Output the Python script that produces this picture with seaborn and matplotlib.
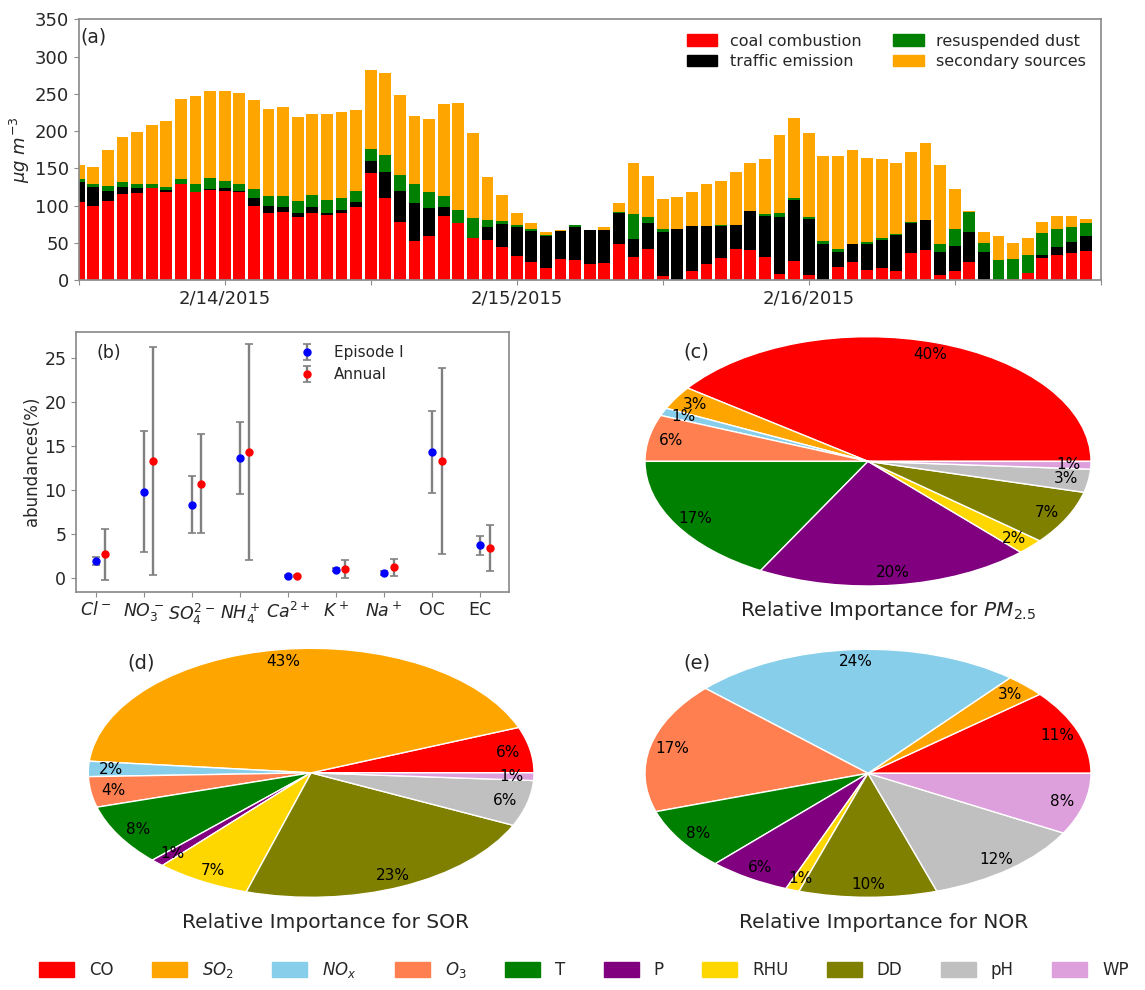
import numpy as np
import pandas as pd
import matplotlib
matplotlib.use("Agg")
import matplotlib.pyplot as plt
import seaborn as sns
from matplotlib.patches import Patch

sns.set_theme(style="ticks")
plt.rcParams["font.family"] = ["DejaVu Sans"]
plt.rcParams["mathtext.fontset"] = "dejavusans"
plt.rcParams["xtick.major.size"] = 3.5
plt.rcParams["ytick.major.size"] = 3.5
plt.rcParams["xtick.major.width"] = 0.8
plt.rcParams["ytick.major.width"] = 0.8

# ---- (a) hourly source contributions, ug m-3 ----
coal = [105, 99, 106, 116, 117, 124, 118.5, 129.5, 118.5, 121,
        120, 118, 100, 90.5, 91.5, 84, 90.5, 87.5, 90.5, 98.5,
        143.5, 110.5, 78.5, 52.5, 59.5, 86, 76.5, 56, 53.5, 44.5,
        32, 24, 16, 28.5, 26.5, 21, 23, 48.5, 30.5, 41,
        6, 0, 11.5, 21, 30, 41, 40.5, 31, 7.5, 26,
        6.5, 0, 17, 24, 13.5, 16.5, 12.5, 36, 40, 6.5,
        12.5, 24.5, 0, 0, 1.5, 9, 29, 33.5, 36, 38.5]
traffic = [26, 26.5, 13, 8.5, 7, 0, 2, 0, 0, 1,
           3, 2, 9.5, 8.5, 6.5, 6.5, 8, 3, 3.5, 6.5,
           16.5, 35, 41.5, 51, 37.5, 12, 0, 0, 17, 30.5,
           39.5, 41.5, 43, 37.5, 45, 45.5, 44, 42, 24.5, 35.5,
           58, 68, 60.5, 52, 43, 33, 51.5, 55, 77.5, 81.5,
           75.5, 48, 21, 24, 35.5, 37.5, 48.5, 41, 40.5, 30.5,
           33.5, 40.5, 37.5, 0, 0, 0, 4.5, 11, 15.5, 21]
dust = [4.5, 3.5, 7, 6.5, 5.5, 5, 4, 6, 10, 15,
        10, 9.5, 12, 13.5, 14.5, 15.5, 16, 17.5, 16.5, 15,
        16, 22, 21.5, 25, 21.5, 14.5, 17.5, 27, 10, 4.5,
        2, 2.5, 2, 0, 2, 0.5, 0, 0.5, 34, 8.5,
        4, 0, 0, 0, 0.5, 0.5, 0.5, 3, 4.5, 3,
        2, 4.5, 4, 0.5, 2.5, 2, 0.5, 0.5, 0.5, 12,
        22.5, 26, 12.5, 27.5, 27, 24.5, 30, 24, 19.5, 16.5]
secondary = [19.5, 22.5, 48, 61.5, 69.5, 79, 89, 107.5, 118.5, 116.5,
             120.5, 121.5, 120, 116.5, 120, 112.5, 108.5, 115, 114.5, 108,
             106.5, 110, 107, 91.5, 97, 124, 143.5, 114, 58, 35,
             17, 8, 4, 0.5, 0, 0.5, 4, 12, 68.5, 54.5,
             41, 43, 46.5, 55.5, 60, 70.5, 65, 73, 104.5, 107,
             114, 114.5, 124.5, 126.5, 112.5, 106.5, 95, 94.5, 103.5, 105,
             54, 1.5, 14, 31.5, 21.5, 23.5, 14, 17.5, 15, 6]
source_names = ["coal combustion", "traffic emission", "resuspended dust", "secondary sources"]
source_colors = ["red", "black", "green", "orange"]
date_ticks = [0, 10, 20, 30, 40, 50, 60, 70]
date_labels = ["", "2/14/2015", "", "2/15/2015", "", "2/16/2015", "", ""]

# ---- (b) chemical abundances, % ----
species = [r"$Cl^-$", r"$NO_3^-$", r"$SO_4^{2-}$", r"$NH_4^+$", r"$Ca^{2+}$",
           r"$K^+$", r"$Na^+$", "OC", "EC"]
episode_mean = [1.9, 9.8, 8.3, 13.6, 0.15, 0.9, 0.55, 14.3, 3.7]
episode_err = [0.45, 6.9, 3.25, 4.1, 0.1, 0.15, 0.25, 4.7, 1.1]
annual_mean = [2.65, 13.35, 10.7, 14.35, 0.23, 1.0, 1.2, 13.3, 3.4]
annual_err = [2.9, 13.0, 5.65, 12.35, 0.12, 1.03, 0.97, 10.6, 2.65]

# ---- (c)-(e) relative importance of factors, % ----
factors = ["CO", r"$SO_2$", r"$NO_x$", r"$O_3$", "T", "P", "RHU", "DD", "pH", "WP"]
factor_colors = ["red", "orange", "skyblue", "coral", "green", "purple",
                 "gold", "olive", "silver", "plum"]
imp_pm25 = [40, 3, 1, 6, 17, 20, 2, 7, 3, 1]
imp_sor = [6, 43, 2, 4, 8, 1, 7, 23, 6, 1]
imp_nor = [11, 3, 24, 17, 8, 6, 1, 10, 12, 8]

W, H = 1145, 990
fig = plt.figure(figsize=(W / 100, H / 100), dpi=100)


def box(l, t, r, b):
    return [l / W, 1 - b / H, (r - l) / W, (b - t) / H]


def px(x, y):
    return x / W, 1 - y / H


spine_color = "0.55"

# ---------- (a) stacked bars ----------
ax_a = fig.add_axes(box(78.7, 19.3, 1100.7, 280))
hours = np.arange(len(coal))
df = pd.DataFrame({
    "hour": np.tile(hours, 4),
    "value": coal + traffic + dust + secondary,
    "source": np.repeat(source_names, len(hours)),
})
sns.histplot(data=df, x="hour", weights="value", hue="source",
             hue_order=source_names[::-1], multiple="stack", discrete=True,
             shrink=0.8, palette=dict(zip(source_names, source_colors)),
             alpha=1, linewidth=0, legend=False, ax=ax_a)
ax_a.set_xlim(0, 70)
ax_a.set_ylim(0, 350)
ax_a.set_yticks(range(0, 351, 50))
ax_a.set_xticks(date_ticks)
ax_a.set_xticklabels(date_labels)
ax_a.set_xlabel("")
ax_a.set_ylabel(r"$\mu g\ m^{-3}$", fontsize=13, labelpad=2)
ax_a.tick_params(labelsize=13, color=spine_color)
for s in ax_a.spines.values():
    s.set_color(spine_color)
    s.set_visible(True)
handles_a = [Patch(color=c, label=n) for n, c in zip(source_names, source_colors)]
ax_a.legend(handles=handles_a, ncol=2, loc="upper right", frameon=False,
            fontsize=11.5, handlelength=1.9, handleheight=0.7,
            labelspacing=0.35, columnspacing=2.0)
fig.text(*px(80, 37), "(a)", fontsize=13.5, va="center", ha="left")

# ---------- (b) abundances with error bars ----------
ax_b = fig.add_axes(box(76, 331.7, 509.3, 591.7))
xpos = np.arange(len(species))
ax_b.errorbar(xpos, episode_mean, yerr=episode_err, fmt="o", color="blue",
              ms=5, ecolor="gray", elinewidth=1.7, capsize=3, capthick=1.2,
              label="Episode I")
ax_b.errorbar(xpos + 0.2, annual_mean, yerr=annual_err, fmt="o", color="red",
              ms=5, ecolor="gray", elinewidth=1.7, capsize=3, capthick=1.2,
              label="Annual")
ax_b.set_xticks(xpos)
ax_b.set_xticklabels(species)
ax_b.set_yticks(range(0, 26, 5))
ax_b.set_ylabel("abundances(%)", fontsize=12, labelpad=2)
ax_b.tick_params(labelsize=12.5, color=spine_color)
for s in ax_b.spines.values():
    s.set_color(spine_color)
    s.set_visible(True)
ax_b.legend(loc="upper left", bbox_to_anchor=(0.465, 1.0), frameon=False,
            fontsize=11, labelspacing=0.45)
fig.text(*px(96, 353), "(b)", fontsize=12.5, va="center", ha="left")


# ---------- (c)-(e) pies ----------
def draw_pie(rect, values, tag, tag_xy, title, title_xy):
    ax = fig.add_axes(rect)
    ax.pie(values, colors=factor_colors, startangle=0, counterclock=True,
           autopct="%.0f%%", pctdistance=0.9,
           textprops=dict(fontsize=11, color="black"))
    ax.set_aspect("auto")
    ax.set_xlim(-1, 1)
    ax.set_ylim(-1, 1)
    ax.axis("off")
    fig.text(*px(*tag_xy), tag, fontsize=14, va="center", ha="left")
    fig.text(*px(*title_xy), title, fontsize=14.5, va="center", ha="center")


draw_pie(box(645, 336.7, 1091, 586), imp_pm25, "(c)", (683, 352),
         r"Relative Importance for $PM_{2.5}$", (888, 610))
draw_pie(box(88.3, 648.3, 534, 897.3), imp_sor, "(d)", (127, 663),
         "Relative Importance for SOR", (326, 922))
draw_pie(box(645, 649.3, 1091, 897.3), imp_nor, "(e)", (683, 663),
         "Relative Importance for NOR", (884, 922))

# ---------- shared factor legend ----------
handles_f = [Patch(color=c, label=n) for n, c in zip(factors, factor_colors)]
fig.legend(handles=handles_f, ncol=10, loc="center", bbox_to_anchor=(0.51, 1 - 970 / H),
           frameon=False, fontsize=12, handlelength=2.1, handleheight=1.0,
           handletextpad=0.9, columnspacing=2.3)

fig.savefig("out.png", dpi=100)
